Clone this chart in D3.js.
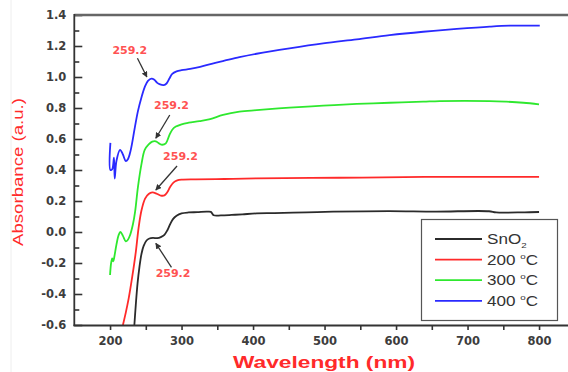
<!DOCTYPE html>
<html><head><meta charset="utf-8">
<script src="https://cdn.jsdelivr.net/npm/d3@7/dist/d3.min.js"></script>
<style>html,body{margin:0;padding:0;background:#fff;}svg{display:block;}</style>
</head><body>
<svg id="c" width="568" height="372"></svg>
<script>
// ---------- data ----------
const seriesNames = ["SnO2", "200 °C", "300 °C", "400 °C"];
const seriesColors = ["#2b2b2b", "#ff2a2a", "#2ee82e", "#2a2aff"];

const sno2 = [[234,-0.6],[236,-0.47],[238.5,-0.33],[241,-0.23],[244,-0.14],[247,-0.09],[251,-0.055],[255,-0.042],[260,-0.038],[266,-0.04],[271,-0.033],[276,-0.018],[280,0.01],[284,0.05],[288,0.083],[293,0.105],[300,0.12],[310,0.126],[322,0.128],[335,0.131],[341,0.13],[345,0.108],[355,0.107],[370,0.11],[385,0.114],[405,0.12],[430,0.122],[475,0.127],[512,0.131],[590,0.135],[655,0.132],[730,0.134],[740,0.126],[780,0.127],[800,0.129]];
const t200 = [[218,-0.6],[222,-0.52],[226,-0.43],[231,-0.29],[236,-0.13],[240,0.03],[244,0.14],[249,0.215],[254,0.245],[259,0.255],[265,0.248],[271,0.235],[276,0.236],[280,0.256],[284,0.29],[289,0.32],[294,0.333],[300,0.338],[320,0.34],[360,0.342],[405,0.346],[520,0.35],[640,0.355],[800,0.356]];
const t300 = [[200,-0.277],[201.5,-0.2],[203,-0.17],[204.5,-0.19],[206,-0.16],[209,-0.08],[212,-0.02],[214.5,0.0],[218,-0.025],[222,-0.06],[225,-0.05],[228,-0.02],[232,0.05],[235,0.13],[239,0.29],[244,0.44],[248.5,0.53],[254,0.565],[259,0.583],[264,0.585],[269,0.57],[273,0.563],[278,0.572],[283,0.625],[287,0.66],[292,0.68],[300,0.695],[310,0.705],[325,0.715],[340,0.728],[358,0.755],[381,0.776],[405,0.786],[451,0.802],[498,0.815],[545,0.826],[591,0.834],[638,0.841],[661,0.845],[731,0.845],[754,0.841],[778,0.834],[800,0.824]];
const t400 = [[200.5,0.575],[200.5,0.40],[203,0.405],[205.5,0.48],[206.5,0.345],[209,0.46],[214,0.53],[218,0.50],[222,0.458],[225,0.47],[229,0.53],[234.5,0.67],[239,0.78],[244,0.87],[248.5,0.935],[253,0.975],[258,0.99],[262,0.982],[266,0.962],[270,0.952],[275,0.948],[279,0.958],[283,0.99],[287,1.02],[293,1.036],[300,1.044],[312,1.052],[326,1.065],[342,1.085],[360,1.105],[381,1.128],[405,1.15],[451,1.185],[498,1.217],[545,1.243],[591,1.27],[638,1.292],[685,1.31],[731,1.325],[759,1.331],[801,1.331]];

const xTicks = [200, 300, 400, 500, 600, 700, 800];
const xMinor = [250, 350, 450, 550, 650, 750];
const yTicks = [-0.6, -0.4, -0.2, 0.0, 0.2, 0.4, 0.6, 0.8, 1.0, 1.2, 1.4];
const yTickLabels = ["-0.6","-0.4","-0.2","0.0","0.2","0.4","0.6","0.8","1.0","1.2","1.4"];
const yMinor = [-0.5,-0.3,-0.1,0.1,0.3,0.5,0.7,0.9,1.1,1.3];

// annotation: label, text position, arrow start, arrow tip (data units)
const annLabels = ["259.2","259.2","259.2","259.2"];
const annText  = [[227.6,1.174],[285.9,0.819],[298.5,0.49],[288.1,-0.266]];
const annFrom  = [[238.3,1.121],[283.5,0.755],[293.7,0.426],[285.9,-0.228]];
const annTo    = [[251.5,1.0],[264,0.605],[264,0.271],[264,-0.073]];

// ---------- drawing ----------
const svg = d3.select("#c");
const x = d3.scaleLinear().domain([150, 850]).range([74.3, 574.8]);
const y = d3.scaleLinear().domain([-0.6, 1.4]).range([325, 15]);

svg.append("line").attr("x1",11).attr("x2",11).attr("y1",0).attr("y2",372).attr("stroke","#eeeeee");

const defs = svg.append("defs");
defs.append("marker").attr("id","ah").attr("viewBox","0 0 10 10").attr("refX",9).attr("refY",5)
  .attr("markerWidth",6).attr("markerHeight",6).attr("markerUnits","userSpaceOnUse").attr("orient","auto")
  .append("path").attr("d","M0,0 L10,5 L0,10 z").attr("fill","#333");
defs.append("clipPath").attr("id","pc").append("rect").attr("x",74).attr("y",14).attr("width",500).attr("height",312);

// series
const line = d3.line().x(d => x(d[0])).y(d => y(d[1])).curve(d3.curveCatmullRom.alpha(0.5));
const allSeries = [sno2, t200, t300, t400];
const g = svg.append("g").attr("clip-path","url(#pc)");
allSeries.forEach((s, i) => {
  g.append("path").datum(s).attr("d", line).attr("fill","none")
    .attr("stroke", seriesColors[i]).attr("stroke-width", 1.8).attr("stroke-linejoin","round");
});

// axes
const yAx = svg.append("g").attr("transform","translate(74.3,0)")
  .call(d3.axisLeft(y).tickValues(yTicks).tickSize(-8).tickPadding(8).tickFormat((d,i) => yTickLabels[i]));
const yAxMinor = svg.append("g").attr("transform","translate(74.3,0)")
  .call(d3.axisLeft(y).tickValues(yMinor).tickSize(-5).tickFormat(""));
const xAx = svg.append("g").attr("transform","translate(0,325)")
  .call(d3.axisBottom(x).tickValues(xTicks).tickSize(5).tickPadding(7).tickFormat(d3.format("d")));
const xAxMinor = svg.append("g").attr("transform","translate(0,325)")
  .call(d3.axisBottom(x).tickValues(xMinor).tickSize(5).tickFormat(""));
[yAx, yAxMinor, xAx, xAxMinor].forEach(a => {
  a.select(".domain").remove();
  a.selectAll(".tick line").attr("stroke","#333").attr("stroke-width",1.6);
  a.selectAll(".tick text").attr("fill","#3d3d3d").attr("font-family","DejaVu Sans").attr("font-weight","bold").attr("font-size",11.5);
});

// frame
svg.append("line").attr("x1",74.3).attr("x2",568).attr("y1",15).attr("y2",15).attr("stroke","#666").attr("stroke-width",2.5);
svg.append("line").attr("x1",74.3).attr("x2",74.3).attr("y1",14).attr("y2",326).attr("stroke","#333").attr("stroke-width",1.8);
svg.append("line").attr("x1",73.5).attr("x2",568).attr("y1",325.5).attr("y2",325.5).attr("stroke","#333").attr("stroke-width",2);

// annotations
annLabels.forEach((t, i) => {
  svg.append("line").attr("x1",x(annFrom[i][0])).attr("y1",y(annFrom[i][1]))
    .attr("x2",x(annTo[i][0])).attr("y2",y(annTo[i][1]))
    .attr("stroke","#333").attr("stroke-width",1.3).attr("marker-end","url(#ah)");
  svg.append("text").attr("x",x(annText[i][0])).attr("y",y(annText[i][1]))
    .attr("text-anchor","middle").attr("dominant-baseline","central")
    .attr("font-family","DejaVu Sans").attr("font-weight","bold").attr("font-size",11)
    .attr("fill","#ff5252").text(t);
});

// axis titles
svg.append("text").attr("transform","translate(23,172) rotate(-90)").attr("text-anchor","middle")
  .attr("font-family","Liberation Sans").attr("font-size",15).attr("fill","#ff2a2a")
  .attr("textLength",148).attr("lengthAdjust","spacingAndGlyphs").text("Absorbance (a.u.)");
svg.append("text").attr("x",324).attr("y",368).attr("text-anchor","middle")
  .attr("font-family","Liberation Sans").attr("font-weight","bold").attr("font-size",16).attr("fill","#ff2a2a")
  .attr("textLength",182).attr("lengthAdjust","spacingAndGlyphs").text("Wavelength (nm)");

// legend
const lg = svg.append("g");
lg.append("rect").attr("x",421.5).attr("y",219.5).attr("width",136).attr("height",101)
  .attr("fill","#fff").attr("stroke","#555").attr("stroke-width",1.2);
seriesNames.forEach((n, i) => {
  const yy = 239 + i * 20.6;
  lg.append("line").attr("x1",435).attr("x2",482).attr("y1",yy).attr("y2",yy)
    .attr("stroke",seriesColors[i]).attr("stroke-width",1.8);
  const t = lg.append("text").attr("transform",`translate(487,${yy+5}) scale(1.22,1)`)
    .attr("font-family","Liberation Sans").attr("font-size",14).attr("fill","#333");
  if (i === 0) {
    t.append("tspan").text("SnO");
    t.append("tspan").attr("dy",4).attr("font-size",8).text("2");
  } else {
    const parts = n.split(" °");
    t.append("tspan").text(parts[0] + " ");
    t.append("tspan").attr("dy",-6).attr("font-size",8).text("o");
    t.append("tspan").attr("dy",6).text(parts[1]);
  }
});
</script>
</body></html>
